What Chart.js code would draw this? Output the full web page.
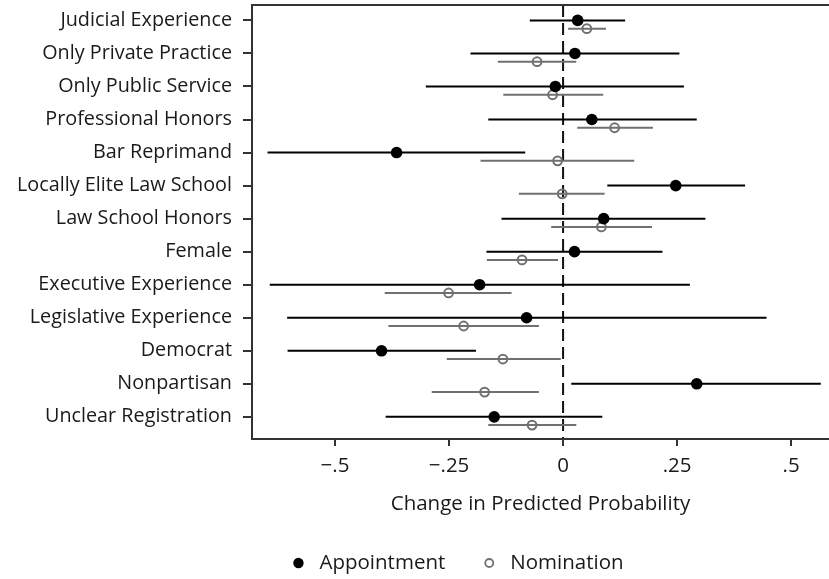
<!DOCTYPE html>
<html>
<head>
<meta charset="utf-8">
<script src="https://cdn.jsdelivr.net/npm/chart.js@4/dist/chart.umd.min.js"></script>
<style>
  html, body { margin: 0; padding: 0; background: #ffffff; }
  #wrap { width: 829px; height: 579px; }
</style>
</head>
<body>
<div id="wrap"><canvas id="c" width="829" height="579"></canvas></div>
<script>
// Predictor labels, top to bottom
const categories = [
  "Judicial Experience", "Only Private Practice", "Only Public Service",
  "Professional Honors", "Bar Reprimand", "Locally Elite Law School",
  "Law School Honors", "Female", "Executive Experience",
  "Legislative Experience", "Democrat", "Nonpartisan", "Unclear Registration"
];

// Change in predicted probability: point estimates and interval bounds
const appointment     = [0.032, 0.026, -0.017, 0.063, -0.365, 0.247, 0.089, 0.025, -0.183, -0.080, -0.398, 0.293, -0.151];
const appointmentLow  = [-0.073, -0.203, -0.301, -0.164, -0.648, 0.097, -0.135, -0.168, -0.643, -0.605, -0.604, 0.018, -0.389];
const appointmentHigh = [0.136, 0.255, 0.265, 0.293, -0.083, 0.399, 0.312, 0.218, 0.278, 0.446, -0.191, 0.565, 0.086];

const nomination      = [0.052, -0.057, -0.023, 0.113, -0.012, -0.002, 0.084, -0.090, -0.251, -0.218, -0.132, -0.172, -0.068];
const nominationLow   = [0.011, -0.143, -0.131, 0.031, -0.181, -0.097, -0.026, -0.167, -0.391, -0.383, -0.255, -0.288, -0.164];
const nominationHigh  = [0.094, 0.029, 0.088, 0.197, 0.156, 0.091, 0.195, -0.011, -0.113, -0.053, -0.005, -0.053, 0.029];

// Axis ticks
const xTickValues = [-0.5, -0.25, 0, 0.25, 0.5];
const xTickLabels = ["\u2212.5", "\u2212.25", "0", ".25", ".5"];

const seriesNames = ["Appointment", "Nomination"];

const FONT = "'Open Sans', 'DejaVu Sans', sans-serif";
const TEXT_COLOR = "#1a1a1a";
const AXIS_COLOR = "#333333";
const APPT_COLOR = "#000000";
const NOM_COLOR = "#707070";
const NOM_SHIFT = 0.25; // nomination row sits slightly below the appointment row

Chart.defaults.font.family = FONT;
Chart.defaults.color = TEXT_COLOR;

// interval lines, one small line dataset per estimate
const intervalSets = [];
categories.forEach((_, i) => {
  intervalSets.push({
    type: "line",
    data: [{ x: appointmentLow[i], y: i }, { x: appointmentHigh[i], y: i }],
    borderColor: APPT_COLOR, borderWidth: 2, pointRadius: 0, order: 3
  });
  intervalSets.push({
    type: "line",
    data: [{ x: nominationLow[i], y: i + NOM_SHIFT }, { x: nominationHigh[i], y: i + NOM_SHIFT }],
    borderColor: NOM_COLOR, borderWidth: 2, pointRadius: 0, order: 3
  });
});

const pointSets = [
  {
    type: "scatter", label: seriesNames[0],
    data: appointment.map((v, i) => ({ x: v, y: i })),
    pointRadius: 5.8, pointBackgroundColor: APPT_COLOR, pointBorderColor: APPT_COLOR,
    pointBorderWidth: 0, order: 1
  },
  {
    type: "scatter", label: seriesNames[1],
    data: nomination.map((v, i) => ({ x: v, y: i + NOM_SHIFT })),
    pointRadius: 4.4, pointBackgroundColor: "rgba(255,255,255,0)", pointBorderColor: NOM_COLOR,
    pointBorderWidth: 2, order: 2
  }
];

// frame lines of the plot region plus the dashed reference line at zero
const framePlugin = {
  id: "frame",
  beforeDatasetsDraw(chart) {
    const { ctx, chartArea: a, scales } = chart;
    const x0 = scales.x.getPixelForValue(0);
    ctx.save();
    ctx.strokeStyle = "#111111";
    ctx.lineWidth = 2;
    ctx.setLineDash([12, 6]);
    ctx.beginPath();
    ctx.moveTo(x0, a.top);
    ctx.lineTo(x0, a.bottom);
    ctx.stroke();
    ctx.restore();
  },
  afterDraw(chart) {
    const { ctx, chartArea: a } = chart;
    ctx.save();
    ctx.strokeStyle = AXIS_COLOR;
    ctx.lineWidth = 2;
    ctx.beginPath();
    ctx.moveTo(chart.width, a.top);
    ctx.lineTo(a.left, a.top);
    ctx.lineTo(a.left, a.bottom);
    ctx.lineTo(chart.width, a.bottom);
    ctx.stroke();
    ctx.restore();
  }
};

// legend row below the axis title
const legendPlugin = {
  id: "rowLegend",
  afterDraw(chart) {
    const { ctx } = chart;
    const y = chart.height - 16;
    ctx.save();
    ctx.font = "20.5px " + FONT;
    ctx.textBaseline = "middle";
    ctx.textAlign = "left";
    const markerGap = 21, itemGap = 44;
    const widths = seriesNames.map(s => ctx.measureText(s).width);
    const total = markerGap * 2 + widths[0] + itemGap + widths[1];
    let x = 461 - total / 2;
    // Appointment marker
    ctx.fillStyle = APPT_COLOR;
    ctx.beginPath(); ctx.arc(x, y, 5.2, 0, Math.PI * 2); ctx.fill();
    ctx.fillStyle = TEXT_COLOR;
    ctx.fillText(seriesNames[0], x + markerGap, y);
    x += markerGap + widths[0] + itemGap;
    // Nomination marker
    ctx.strokeStyle = NOM_COLOR; ctx.lineWidth = 1.8;
    ctx.beginPath(); ctx.arc(x, y, 4, 0, Math.PI * 2); ctx.stroke();
    ctx.fillStyle = TEXT_COLOR;
    ctx.fillText(seriesNames[1], x + markerGap, y);
    ctx.restore();
  }
};

new Chart(document.getElementById("c"), {
  data: { datasets: intervalSets.concat(pointSets) },
  options: {
    responsive: false,
    animation: false,
    layout: { autoPadding: false, padding: { left: 0, right: 0, top: 5, bottom: 63 } },
    plugins: { legend: { display: false }, tooltip: { enabled: false } },
    scales: {
      x: {
        type: "linear", position: "bottom",
        min: -0.682, max: 0.583,
        afterBuildTicks: s => { s.ticks = xTickValues.map(v => ({ value: v })); },
        afterFit: s => { s.height = 77; s.paddingLeft = 0; s.paddingRight = 0; },
        ticks: {
          font: { size: 20.5 }, color: TEXT_COLOR, padding: 8,
          callback: (v) => xTickLabels[xTickValues.indexOf(v)]
        },
        grid: { drawOnChartArea: false, drawTicks: true, tickLength: 7, color: AXIS_COLOR, lineWidth: 2 },
        border: { display: false },
        title: {
          display: true, text: "Change in Predicted Probability",
          font: { size: 20.5 }, color: TEXT_COLOR, padding: { top: 0, bottom: 0 }
        }
      },
      y: {
        type: "linear", position: "left", reverse: true,
        min: -0.466, max: 12.67,
        afterBuildTicks: s => { s.ticks = categories.map((_, i) => ({ value: i })); },
        afterFit: s => { s.width = 252; s.paddingTop = 0; s.paddingBottom = 0; },
        ticks: {
          font: { size: 19.8 }, color: TEXT_COLOR, padding: 11,
          callback: (v) => categories[v]
        },
        grid: { drawOnChartArea: false, drawTicks: true, tickLength: 9, color: AXIS_COLOR, lineWidth: 2 },
        border: { display: false }
      }
    }
  },
  plugins: [framePlugin, legendPlugin]
});
</script>
</body>
</html>
